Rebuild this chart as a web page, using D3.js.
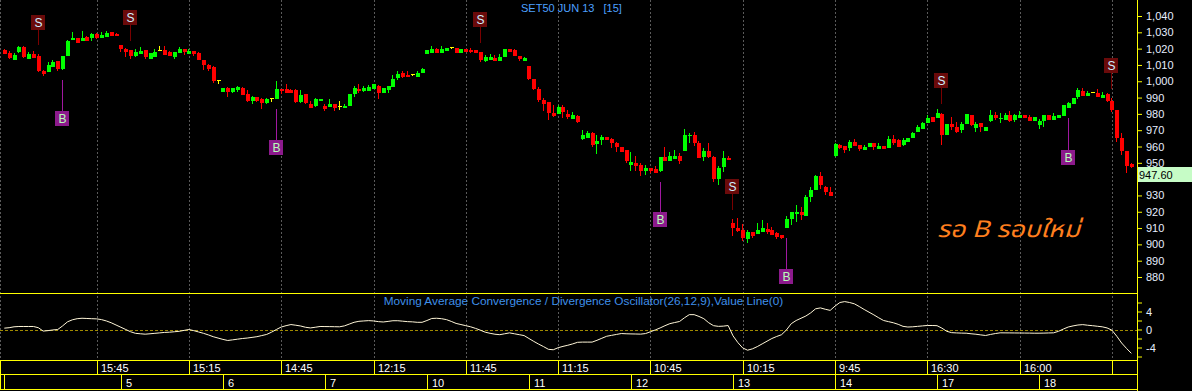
<!DOCTYPE html>
<html>
<head>
<meta charset="utf-8">
<script src="https://cdn.jsdelivr.net/npm/d3@7"></script>
<style>
  html, body { margin: 0; padding: 0; background: #000; }
  svg { display: block; }
</style>
</head>
<body>
<div id="chart"></div>
<script>
// 15 minute candles, SET50 JUN 13
const opens = [
  1019.2,1017.3,1013.0,1017.7,1021.0,1013.8,1016.9,1015.7,1006.5,1005.9,
  1008.9,1012.4,1007.5,1015.7,1025.3,1026.5,1024.9,1027.1,1026.3,1029.0,
  1026.7,1027.3,1030.0,1029.2,1022.2,1020.0,1019.2,1015.7,1016.9,1019.2,
  1013.8,1015.1,1019.2,1019.2,1018.1,1015.1,1017.5,1019.8,1016.7,1018.5,
  1017.3,1013.0,1010.0,1008.7,1000.8,993.4,995.9,993.4,994.4,995.9,
  992.2,987.9,990.6,989.1,986.5,989.5,989.1,995.3,995.5,994.6,
  994.6,987.5,992.2,986.1,984.8,987.9,984.8,984.2,986.1,984.8,
  983.8,984.8,992.2,995.5,994.0,994.2,995.1,997.1,992.6,994.6,
  996.7,1001.8,1005.1,1004.0,1004.4,1002.6,1005.1,1016.9,1017.5,1019.8,
  1017.5,1018.7,1021.0,1020.4,1017.5,1019.8,1019.4,1019.2,1017.9,1012.4,
  1013.0,1014.5,1012.4,1015.1,1019.6,1019.2,1015.7,1012.6,1009.6,1001.4,
  995.5,988.5,987.3,980.7,979.9,984.4,979.9,976.7,978.7,964.6,
  965.4,968.5,961.5,964.0,965.6,964.4,962.4,959.9,957.9,948.7,
  949.7,948.7,944.8,946.6,946.2,945.0,953.6,951.3,952.5,954.4,
  957.4,966.5,966.9,962.4,953.4,957.2,953.8,940.1,947.2,953.2,
  912.9,910.2,908.8,903.3,907.6,906.4,907.6,909.4,908.8,906.8,
  905.7,910.2,915.6,918.6,920.0,917.4,928.8,933.3,941.9,935.0,
  932.1,954.4,960.9,960.3,958.9,962.8,960.9,957.9,959.5,961.9,
  958.5,960.3,959.3,964.4,964.0,960.9,962.8,965.0,968.7,970.7,
  974.2,978.3,977.7,979.9,967.1,973.8,971.8,970.1,973.8,979.3,
  971.6,974.2,969.7,975.8,979.3,976.6,976.3,979.3,976.3,977.3,
  979.3,978.3,975.8,973.2,975.8,979.3,976.3,977.3,978.7,983.8,
  986.1,990.1,994.0,991.2,993.2,993.0,989.9,992.0,987.9,982.4,
  965.4,957.5,949.0];
const highs = [
  1019.6,1018.5,1017.5,1021.8,1021.6,1017.9,1018.5,1016.5,1006.9,1011.8,
  1013.0,1012.4,1015.5,1025.3,1030.2,1026.5,1030.8,1027.7,1029.6,1029.6,
  1030.2,1030.8,1030.0,1029.6,1022.2,1020.6,1019.2,1019.6,1021.0,1019.2,
  1017.1,1019.8,1021.6,1021.6,1018.5,1018.1,1021.0,1019.8,1020.0,1018.5,
  1018.1,1013.0,1010.6,1009.1,1000.8,995.9,996.3,995.7,997.1,996.3,
  994.6,990.9,990.6,989.7,989.5,989.5,1000.2,995.3,998.3,995.5,
  995.1,994.6,992.2,987.9,989.7,989.1,986.1,989.1,986.1,987.9,
  986.1,992.2,997.1,998.3,997.1,997.7,998.3,997.7,995.9,997.1,
  1003.8,1006.3,1006.3,1006.3,1004.4,1006.5,1008.1,1019.2,1021.6,1020.6,
  1021.6,1020.4,1021.0,1020.4,1019.6,1019.8,1020.4,1019.2,1017.9,1015.9,
  1016.7,1015.9,1016.7,1019.6,1019.6,1020.0,1015.7,1015.1,1009.6,1001.4,
  996.3,989.7,987.3,985.5,985.5,985.5,982.4,981.2,979.3,970.1,
  969.7,969.1,967.1,967.1,965.6,965.2,962.8,959.9,957.9,956.8,
  954.2,949.7,948.7,946.6,948.0,953.6,959.9,956.4,957.9,955.8,
  970.7,968.5,968.9,963.4,958.9,962.4,954.2,948.3,957.2,954.2,
  915.6,916.4,912.3,908.8,907.6,912.9,914.9,912.9,910.9,907.8,
  905.7,917.4,919.8,924.1,922.7,930.3,934.9,942.5,944.4,935.8,
  935.0,961.9,961.3,960.3,964.0,964.4,960.9,960.9,961.9,961.9,
  961.9,960.3,966.4,967.0,964.4,965.0,965.2,969.1,973.2,975.2,
  979.3,978.3,982.8,980.7,973.8,977.9,975.0,975.2,979.9,979.3,
  975.2,974.2,972.2,982.4,980.9,980.3,980.3,981.8,979.7,981.8,
  979.3,979.3,978.3,976.9,979.3,979.3,980.3,979.3,985.4,987.5,
  989.5,995.7,995.7,994.2,993.2,995.0,993.6,992.6,989.9,982.4,
  968.1,957.5,949.6];
const lows = [
  1016.5,1013.8,1013.0,1017.1,1014.5,1013.8,1014.5,1005.9,1003.2,1005.9,
  1008.9,1006.3,1006.9,1015.7,1025.3,1023.7,1024.9,1024.7,1024.9,1025.7,
  1026.7,1027.3,1027.7,1027.9,1018.1,1015.1,1013.4,1015.1,1016.9,1013.8,
  1013.8,1015.1,1018.9,1016.1,1015.7,1013.8,1017.5,1016.1,1016.7,1015.7,
  1013.0,1006.9,1006.3,999.1,998.3,993.4,990.3,992.6,993.6,991.6,
  987.3,986.3,987.5,983.0,986.1,987.3,989.1,992.0,992.8,992.6,
  986.9,986.5,985.9,983.8,984.4,987.9,981.8,984.2,981.8,982.4,
  983.8,984.8,990.6,993.0,993.4,994.2,995.1,989.3,992.6,992.6,
  996.7,1000.8,1002.2,1002.6,1003.2,1002.6,1005.1,1016.9,1017.5,1017.3,
  1017.5,1018.7,1020.0,1017.5,1017.5,1018.1,1017.5,1017.1,1012.0,1011.8,
  1013.0,1012.4,1012.4,1015.1,1017.9,1015.7,1012.6,1012.6,1000.8,994.6,
  987.5,981.8,976.2,978.3,979.9,977.3,976.7,976.7,974.6,964.0,
  965.4,959.5,955.4,960.9,964.0,959.3,956.8,956.8,949.7,945.0,
  945.2,941.9,942.5,944.0,944.0,944.4,951.3,951.3,952.5,949.3,
  957.4,961.9,960.3,953.2,951.3,953.2,938.5,936.4,944.6,951.7,
  905.1,907.8,902.1,900.6,904.1,906.4,907.6,906.4,905.7,903.3,
  903.1,910.2,911.9,913.9,914.9,917.4,926.2,933.3,934.2,930.5,
  929.9,953.4,958.3,956.2,957.5,960.3,957.5,957.9,959.5,957.9,
  958.5,958.5,959.3,960.9,959.5,960.3,962.8,965.0,968.7,970.7,
  974.2,975.2,977.7,960.9,967.1,970.1,968.5,968.5,973.8,972.6,
  969.1,969.1,969.7,975.2,976.3,974.6,976.3,975.2,975.2,977.3,
  977.3,975.8,975.8,970.5,972.2,976.3,976.3,977.3,978.7,983.4,
  986.1,988.9,991.2,991.2,993.2,990.6,989.9,987.5,981.4,963.0,
  954.8,943.6,947.0];
const closes = [
  1016.9,1014.5,1016.1,1021.0,1014.9,1016.9,1014.5,1006.3,1004.7,1010.0,
  1012.0,1007.5,1015.5,1024.7,1026.5,1023.7,1026.5,1024.7,1029.0,1026.5,
  1028.6,1029.8,1027.7,1027.9,1019.8,1017.9,1015.7,1018.1,1018.7,1015.1,
  1017.1,1018.1,1019.2,1016.1,1015.7,1017.7,1019.8,1018.1,1018.7,1016.5,
  1013.0,1010.0,1007.3,1000.2,1000.8,995.9,993.4,995.7,996.5,991.6,
  987.7,990.3,987.9,986.5,988.9,989.5,995.3,994.0,992.8,992.6,
  987.3,991.6,986.9,983.8,988.9,989.1,982.8,986.1,983.8,984.8,
  985.0,992.2,995.9,994.2,995.7,996.3,998.3,992.6,995.9,997.1,
  1001.4,1004.7,1002.6,1002.6,1004.4,1005.1,1007.5,1019.2,1020.0,1017.3,
  1020.0,1020.4,1021.0,1017.5,1019.6,1018.1,1018.1,1017.1,1013.0,1015.1,
  1015.1,1012.4,1015.1,1019.6,1017.9,1015.7,1013.6,1014.3,1001.4,995.3,
  988.5,986.1,980.7,978.7,984.4,981.4,977.9,979.5,975.2,967.1,
  968.5,960.9,963.4,965.6,964.0,962.4,959.9,956.8,951.3,950.7,
  948.3,945.2,946.6,945.0,944.0,953.6,951.3,954.2,954.4,951.3,
  967.1,967.3,962.4,953.2,957.2,953.8,940.1,947.0,953.2,951.7,
  910.2,908.2,904.1,907.6,905.3,908.8,909.8,907.6,905.7,904.3,
  904.1,915.6,919.8,920.0,918.0,928.8,933.3,941.9,936.2,932.1,
  929.9,961.5,958.9,957.9,963.0,960.3,958.3,959.7,961.9,959.5,
  960.5,958.5,964.6,962.4,959.9,964.0,965.2,968.5,972.2,974.2,
  977.7,975.2,980.7,967.1,973.8,971.8,969.1,973.8,979.9,973.2,
  973.8,971.8,972.2,979.3,977.3,977.7,979.3,975.8,979.3,979.3,
  977.3,975.8,978.3,975.8,979.3,976.3,978.7,979.3,985.4,986.5,
  989.5,994.6,991.2,993.0,993.2,990.6,991.6,988.1,982.4,965.0,
  957.2,948.3,947.6];

// MACD(26,12,9) values
const macdValues = [
  0.3,0.4,0.6,0.67,0.67,0.67,0.67,0.4,-0.35,-0.25,
  -0.1,0,0.8,1.7,2.15,2.4,2.5,2.45,2.4,2.36,
  2.2,1.9,1.5,1.0,0.5,0.0,-0.5,-0.85,-0.95,-1.04,
  -0.95,-0.85,-0.75,-0.65,-0.6,-0.5,-0.4,-0.2,0,-0.25,
  -0.55,-0.85,-1.2,-1.6,-1.9,-2.2,-2.44,-2.3,-2.15,-2.0,
  -1.9,-1.75,-1.6,-1.35,-1.1,-0.6,0.0,0.55,0.85,1.1,
  0.95,0.78,0.5,0.35,0.5,0.67,0.65,0.64,0.62,0.6,
  0.8,1.2,1.6,1.82,1.9,1.97,1.9,1.75,1.67,1.8,
  1.95,1.95,1.85,1.75,1.7,1.6,1.6,2.0,2.45,2.5,
  2.4,2.2,1.8,1.35,1.1,0.85,0.6,0.25,-0.15,-0.6,
  -0.85,-1.05,-1.15,-0.95,-0.75,-0.95,-1.15,-1.35,-2.0,-2.65,
  -3.25,-3.8,-4.4,-4.5,-4.05,-3.75,-3.5,-3.2,-2.85,-2.8,
  -2.8,-2.8,-2.4,-1.95,-1.5,-1.3,-1.1,-0.9,-0.95,-0.98,
  -1.0,-1.03,-0.9,-0.5,-0.1,0.35,0.85,1.3,1.55,1.78,
  2.6,3.3,3.3,2.9,2.4,1.5,0.85,0.7,0.75,0.88,
  -1.4,-2.9,-4.1,-4.6,-4.3,-3.8,-3.2,-2.6,-2.0,-1.55,
  -1.15,-0.1,1.3,2.0,2.5,3.0,3.7,4.6,4.8,4.5,
  4.25,5.2,6.0,6.2,6.0,5.7,5.1,4.45,3.85,3.25,
  2.6,2.0,1.75,1.5,1.15,0.7,0.55,0.6,0.7,0.8,
  0.89,0.89,0.85,0.3,-0.4,-0.7,-0.76,-0.8,-0.82,-0.95,
  -1.05,-1.2,-1.33,-1.1,-0.9,-0.74,-0.75,-0.76,-0.77,-0.78,
  -0.79,-0.8,-0.82,-0.82,-0.8,-0.77,-0.74,-0.4,0.1,0.55,
  0.8,1.0,1.08,0.95,0.85,0.72,0.6,0.35,-0.15,-1.5,
  -3.0,-4.2,-5.3];

const priceTicks = d3.range(880, 1041, 10);
const macdTicks = [-6, -4, -2, 0, 2, 4, 6];
const macdLabelled = [-4, 0, 4];

const timeTickIdx = [19, 38, 57, 76, 95, 114, 133, 152, 171, 190, 209, 228];
const timeTickLabels = ["15:45", "15:15", "14:45", "12:15", "11:45", "11:15",
                        "10:45", "10:15", "9:45", "16:30", "16:00", "15:30"];
const dayIdx = [0, 24, 45, 66, 87, 108, 129, 150, 171, 192, 213];
const dayLabels = ["", "5", "6", "7", "10", "11", "12", "13", "14", "17", "18"];

const signalIdx = [7, 26, 98, 150, 193, 228, 12, 56, 135, 161, 219];
const signalType = ["S", "S", "S", "S", "S", "S", "B", "B", "B", "B", "B"];
const signalLevel = [1036.6, 1039.1, 1037.9, 935.5, 1000.6, 1009.8, 977.2, 960.0, 915.3, 880.9, 953.3];

const lastPrice = 947.60;
const chartTitle = "SET50 JUN 13   [15]";
const macdTitle = "Moving Average Convergence / Divergence Oscillator(26,12,9),Value Line(0)";
const note = "รอ B รอบใหม่";

const width = 1192, height = 391;
const plotRight = 1137;
const yellow = "#ffff00";
const font = "'Liberation Sans', Arial, sans-serif";

const svg = d3.select("#chart")
  .append("svg")
  .attr("width", width)
  .attr("height", height);

svg.append("rect")
  .attr("width", width)
  .attr("height", height)
  .attr("fill", "#000");

const n = closes.length;
const x = d3.scaleLinear().domain([0, n - 1]).range([4.3, 4.3 + 4.858 * (n - 1)]);
const y = d3.scaleLinear().domain([880, 1040]).range([277, 16]);
const yMacd = d3.scaleLinear().domain([-6, 6]).range([356.5, 302.5]);
const px = (i) => Math.floor(x(i));

// vertical dashed grid
const grid = svg.append("g").attr("shape-rendering", "crispEdges");
grid.selectAll("line")
  .data(timeTickIdx)
  .join("line")
  .attr("x1", (d) => Math.round(x(d)) + 0.5)
  .attr("x2", (d) => Math.round(x(d)) + 0.5)
  .attr("y1", 0)
  .attr("y2", 360)
  .attr("stroke", "#5a5a5a")
  .attr("stroke-dasharray", "2,2");
grid.append("line")
  .attr("x1", 0.5).attr("x2", 0.5)
  .attr("y1", 0).attr("y2", 360)
  .attr("stroke", "#5a5a5a")
  .attr("stroke-dasharray", "2,2");

// MACD zero line
svg.append("line")
  .attr("x1", 0)
  .attr("x2", plotRight)
  .attr("y1", Math.round(yMacd(0)) + 0.5)
  .attr("y2", Math.round(yMacd(0)) + 0.5)
  .attr("stroke", "#a08a00")
  .attr("stroke-dasharray", "3,2")
  .attr("shape-rendering", "crispEdges");

// candles
const colorOf = (i) => closes[i] > opens[i] ? "#00ff00" : (closes[i] < opens[i] ? "#ff0000" : yellow);
const candles = svg.append("g").attr("shape-rendering", "crispEdges");
const idx = d3.range(n);

candles.selectAll("line")
  .data(idx)
  .join("line")
  .attr("x1", (i) => px(i) + 0.5)
  .attr("x2", (i) => px(i) + 0.5)
  .attr("y1", (i) => Math.round(y(highs[i])))
  .attr("y2", (i) => Math.round(y(lows[i])))
  .attr("stroke", colorOf);

candles.selectAll("rect")
  .data(idx)
  .join("rect")
  .attr("x", (i) => px(i) - 1)
  .attr("width", 4)
  .attr("y", (i) => Math.round(y(Math.max(opens[i], closes[i]))))
  .attr("height", (i) => Math.max(1, Math.round(y(Math.min(opens[i], closes[i]))) - Math.round(y(Math.max(opens[i], closes[i])))))
  .attr("fill", colorOf);

// buy / sell signals
const signals = signalIdx.map((d, k) => ({ i: d, type: signalType[k], level: signalLevel[k] }));
const sig = svg.append("g").attr("shape-rendering", "crispEdges");

sig.selectAll("line")
  .data(signals)
  .join("line")
  .attr("x1", (d) => px(d.i) + 0.5)
  .attr("x2", (d) => px(d.i) + 0.5)
  .attr("y1", (d) => d.type === "S" ? Math.round(y(d.level)) + 7 : Math.round(y(lows[d.i])) + 10)
  .attr("y2", (d) => d.type === "S" ? Math.round(y(highs[d.i])) - 9 : Math.round(y(d.level)) - 7)
  .attr("stroke", (d) => d.type === "S" ? "#7a0000" : "#a018a0");

sig.selectAll("rect")
  .data(signals)
  .join("rect")
  .attr("x", (d) => px(d.i) - 7)
  .attr("y", (d) => Math.round(y(d.level)) - 7)
  .attr("width", 14)
  .attr("height", 15)
  .attr("fill", (d) => d.type === "S" ? "#6a0a0a" : "#8c1a8c");

sig.selectAll("text")
  .data(signals)
  .join("text")
  .attr("x", (d) => px(d.i) + 0.5)
  .attr("y", (d) => Math.round(y(d.level)) + 5)
  .attr("text-anchor", "middle")
  .style("font", "12px " + font)
  .attr("fill", (d) => d.type === "S" ? "#cfeeff" : "#b8ffb8")
  .text((d) => d.type);

// MACD line
const macdLine = d3.line()
  .x((d, i) => x(i))
  .y((d) => yMacd(d));

svg.append("path")
  .datum(macdValues)
  .attr("fill", "none")
  .attr("stroke", "#fff6d8")
  .attr("stroke-width", 1)
  .attr("d", macdLine);

// panel frames
const frame = svg.append("g").attr("stroke", yellow).attr("shape-rendering", "crispEdges");
[293.5, 360.5, 374.5, 389.5].forEach((yy) => {
  frame.append("line").attr("x1", 0).attr("x2", plotRight + 1).attr("y1", yy).attr("y2", yy);
});
frame.append("line").attr("x1", 0.5).attr("x2", 0.5).attr("y1", 360).attr("y2", 390);
frame.append("line").attr("x1", plotRight + 0.5).attr("x2", plotRight + 0.5).attr("y1", 0).attr("y2", height);

// price axis (the label hidden under the last price box is left blank)
const lastY = Math.round(y(lastPrice));
svg.append("g")
  .attr("transform", `translate(${plotRight},0)`)
  .call(d3.axisRight(y).tickValues(priceTicks).tickSize(5).tickPadding(4)
    .tickFormat((d) => (y(d) > lastY - 4 && y(d) < lastY + 20) ? "" : d3.format(",")(d)))
  .call((g) => g.select(".domain").remove())
  .call((g) => g.selectAll("line").attr("stroke", yellow))
  .call((g) => g.selectAll("text").attr("fill", "#e6eeff").style("font", "11px " + font));

// MACD axis
svg.append("g")
  .attr("transform", `translate(${plotRight},0)`)
  .call(d3.axisRight(yMacd).tickValues(macdTicks).tickSize(5).tickPadding(4)
    .tickFormat((d) => macdLabelled.includes(d) ? String(d) : ""))
  .call((g) => g.select(".domain").remove())
  .call((g) => g.selectAll("line").attr("stroke", yellow))
  .call((g) => g.selectAll("text").attr("fill", "#e6eeff").style("font", "11px " + font));

// last price box
svg.append("rect")
  .attr("x", plotRight + 1)
  .attr("y", lastY)
  .attr("width", width - plotRight - 1)
  .attr("height", 15)
  .attr("fill", "#c6fcc6");
svg.append("text")
  .attr("x", plotRight + 2)
  .attr("y", lastY + 12)
  .attr("fill", "#000")
  .style("font", "11px " + font)
  .text(lastPrice.toFixed(2));

// time axis rows
const timeRow = svg.append("g");
timeRow.selectAll("line")
  .data(timeTickIdx)
  .join("line")
  .attr("x1", (d) => Math.round(x(d)) + 0.5)
  .attr("x2", (d) => Math.round(x(d)) + 0.5)
  .attr("y1", 360)
  .attr("y2", 375)
  .attr("stroke", yellow)
  .attr("shape-rendering", "crispEdges");
timeRow.selectAll("text")
  .data(timeTickIdx.filter((d) => Math.round(x(d)) + 30 < plotRight))
  .join("text")
  .attr("x", (d) => Math.round(x(d)) + 4)
  .attr("y", 371.5)
  .attr("fill", "#fff")
  .style("font", "11px " + font)
  .text((d) => timeTickLabels[timeTickIdx.indexOf(d)]);

const dayRow = svg.append("g");
dayRow.selectAll("line")
  .data(dayIdx)
  .join("line")
  .attr("x1", (d) => Math.round(x(d)) + 0.5)
  .attr("x2", (d) => Math.round(x(d)) + 0.5)
  .attr("y1", 375)
  .attr("y2", 390)
  .attr("stroke", yellow)
  .attr("shape-rendering", "crispEdges");
dayRow.selectAll("text")
  .data(dayIdx)
  .join("text")
  .attr("x", (d) => Math.round(x(d)) + 5)
  .attr("y", 386.5)
  .attr("fill", "#fff")
  .style("font", "11px " + font)
  .text((d, k) => dayLabels[k]);

// titles
svg.append("text")
  .attr("x", 521)
  .attr("y", 12)
  .attr("fill", "#4da0ff")
  .style("font", "11px " + font)
  .style("white-space", "pre")
  .text(chartTitle);

svg.append("text")
  .attr("x", 583.5)
  .attr("y", 305)
  .attr("text-anchor", "middle")
  .attr("fill", "#3f90ea")
  .style("font", "11.8px " + font)
  .text(macdTitle);

svg.append("text")
  .attr("x", 937)
  .attr("y", 237)
  .attr("fill", "#ff7f1e")
  .attr("textLength", 143)
  .attr("lengthAdjust", "spacingAndGlyphs")
  .style("font", "italic 23px Tahoma, 'Noto Sans Thai', Loma, Garuda, 'DejaVu Sans', sans-serif")
  .text(note);
</script>
</body>
</html>
